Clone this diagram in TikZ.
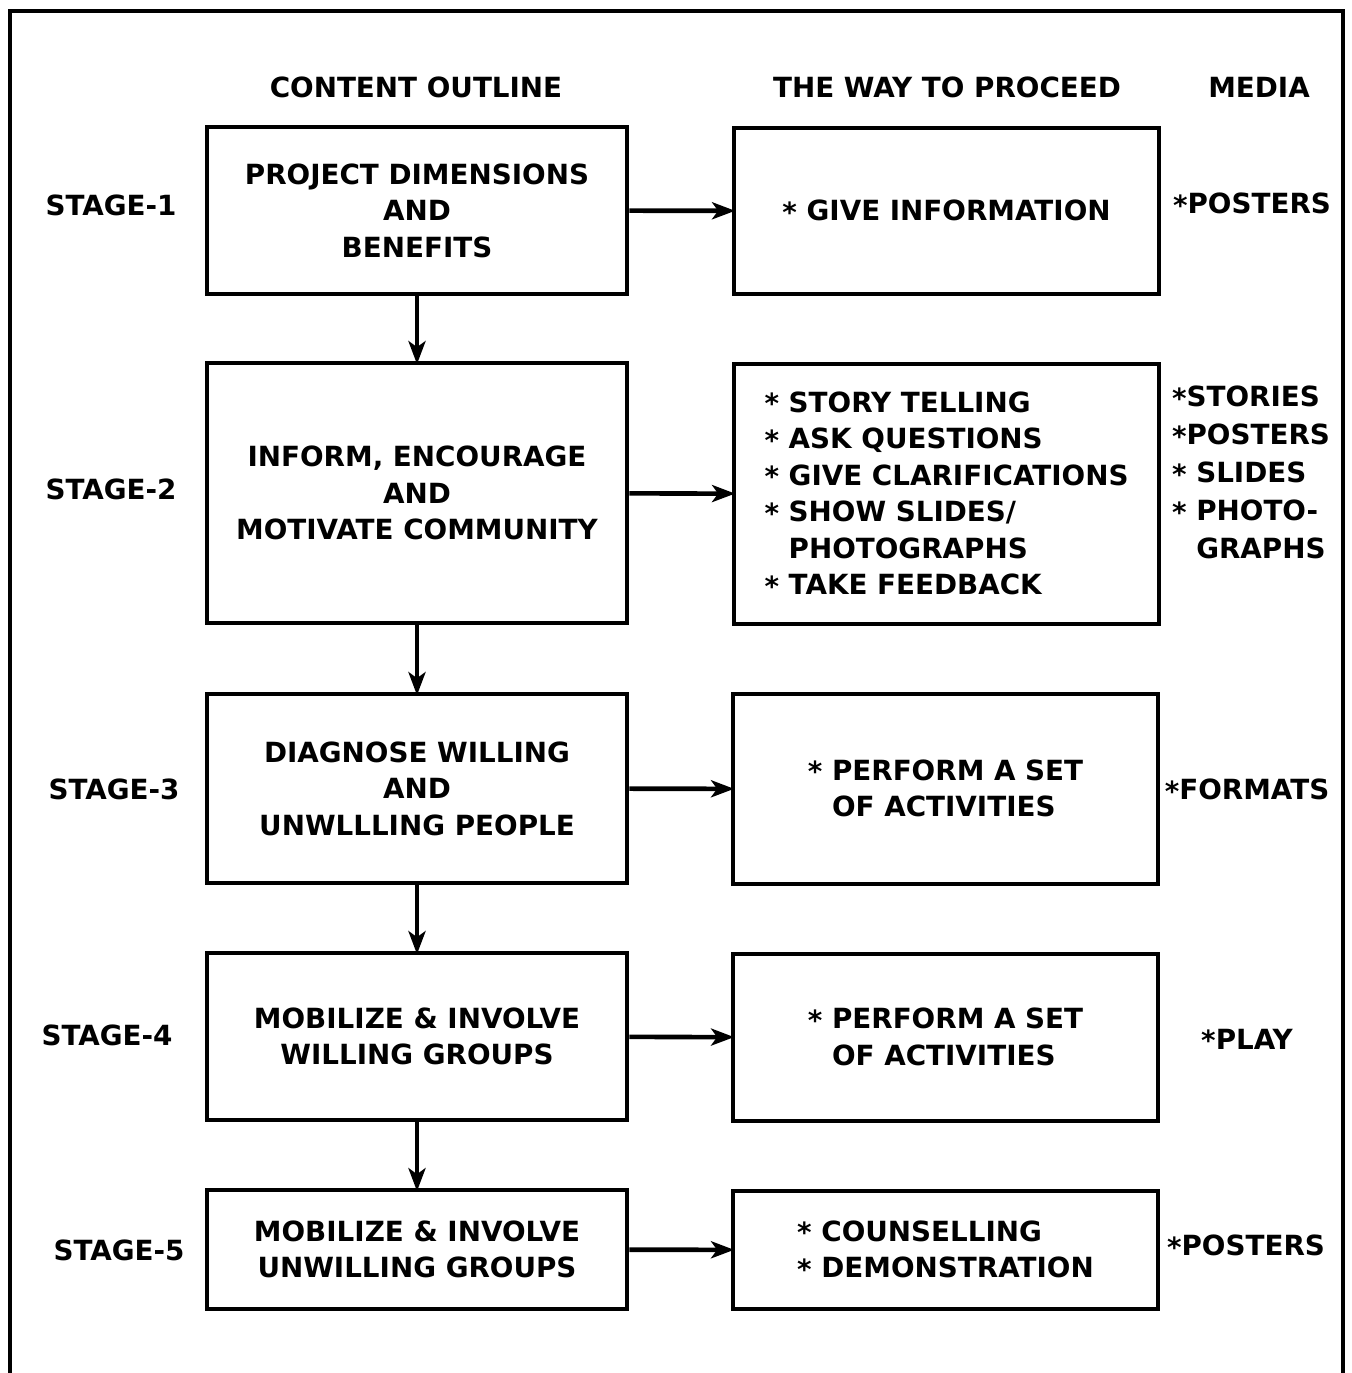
\documentclass[tikz,border=0pt]{standalone}
\usepackage{fontspec}
\setmainfont{DejaVu Sans}
\usetikzlibrary{positioning,arrows.meta}

\newcommand{\chartfont}{\fontsize{7.9}{10.4}\selectfont\bfseries}
\newcommand{\mediafont}{\fontsize{7.9}{10.8}\selectfont\bfseries}
\newcommand{\itemstar}{\raisebox{-.1ex}{*}}

\tikzset{
	contentbox/.style={draw, line width=1.3pt, minimum width=4.2cm, align=center, font=\chartfont, inner sep=0pt},
	waybox/.style={draw, line width=1.3pt, minimum width=4.25cm, align=left, font=\chartfont, inner sep=0pt},
	heading/.style={font=\chartfont},
	medialabel/.style={font=\mediafont, align=left, inner sep=0pt},
	flow/.style={line width=1.3pt, shorten >=-1pt, -{Stealth[length=0.23cm,width=0.17cm,inset=0.06cm]}}
}

\begin{document}
\begin{tikzpicture}[x=0.01cm,y=-0.01cm]
\useasboundingbox (0,0) rectangle (1351,1373);
% open frame
\draw[line width=1.1pt] (10,1373) -- (10,11) -- (1343,11) -- (1343,1373);

% column headings
\node[heading] (hcontent) at (416,87) {CONTENT OUTLINE};
\node[heading] (hway) at (947,87) {THE WAY TO PROCEED};
\node[heading] (hmedia) at (1259,87) {MEDIA};

% stages
\node[heading] (stage1) at (111,205) {STAGE-1};
\node[heading] (stage2) at (111,489) {STAGE-2};
\node[heading] (stage3) at (114,789) {STAGE-3};
\node[heading] (stage4) at (107,1035) {STAGE-4};
\node[heading] (stage5) at (119,1250) {STAGE-5};

% content outline
\node[contentbox, minimum height=1.67cm] (cont1) at (417,210.5) {PROJECT DIMENSIONS\\AND\\BENEFITS};
\node[contentbox, minimum height=2.6cm] (cont2) at (417,493) {INFORM, ENCOURAGE\\AND\\MOTIVATE COMMUNITY};
\node[contentbox, minimum height=1.89cm] (cont3) at (417,788.5) {DIAGNOSE WILLING\\AND\\UNWLLLING PEOPLE};
\node[contentbox, minimum height=1.67cm] (cont4) at (417,1036.5) {MOBILIZE \& INVOLVE\\WILLING GROUPS};
\node[contentbox, minimum height=1.19cm] (cont5) at (417,1249.5) {MOBILIZE \& INVOLVE\\UNWILLING GROUPS};

% the way to proceed
\node[waybox, minimum height=1.66cm] (way1) at (946.5,211) {\itemstar{} GIVE INFORMATION};
\node[waybox, minimum height=2.6cm] (way2) at (946.5,494) {\itemstar{} STORY TELLING\\\itemstar{} ASK QUESTIONS\\\itemstar{} GIVE CLARIFICATIONS\\\itemstar{} SHOW SLIDES/\\\phantom{\itemstar{} }PHOTOGRAPHS\\\itemstar{} TAKE FEEDBACK};
\node[waybox, minimum height=1.9cm] (way3) at (945.5,789) {\itemstar{} PERFORM A SET\\\phantom{\itemstar{} }OF ACTIVITIES};
\node[waybox, minimum height=1.67cm] (way4) at (945.5,1037.5) {\itemstar{} PERFORM A SET\\\phantom{\itemstar{} }OF ACTIVITIES};
\node[waybox, minimum height=1.18cm] (way5) at (945.5,1250) {\itemstar{} COUNSELLING\\\itemstar{} DEMONSTRATION};

% media
\node[medialabel] (media1) at (1252,204) {\itemstar POSTERS};
\node[medialabel] (media2) at (1251,473) {\itemstar STORIES\\\itemstar POSTERS\\\itemstar{} SLIDES\\\itemstar{} PHOTO-\\\phantom{\itemstar{} }GRAPHS};
\node[medialabel] (media3) at (1247,790) {\itemstar FORMATS};
\node[medialabel] (media4) at (1247,1040) {\itemstar PLAY};
\node[medialabel] (media5) at (1246,1246) {\itemstar POSTERS};

% connectors
\foreach \i/\j in {1/2,2/3,3/4,4/5}
	\draw[flow] (cont\i) -- (cont\j);
\foreach \i in {1,...,5}
	\draw[flow] (cont\i) -- (way\i);
\end{tikzpicture}
\end{document}
